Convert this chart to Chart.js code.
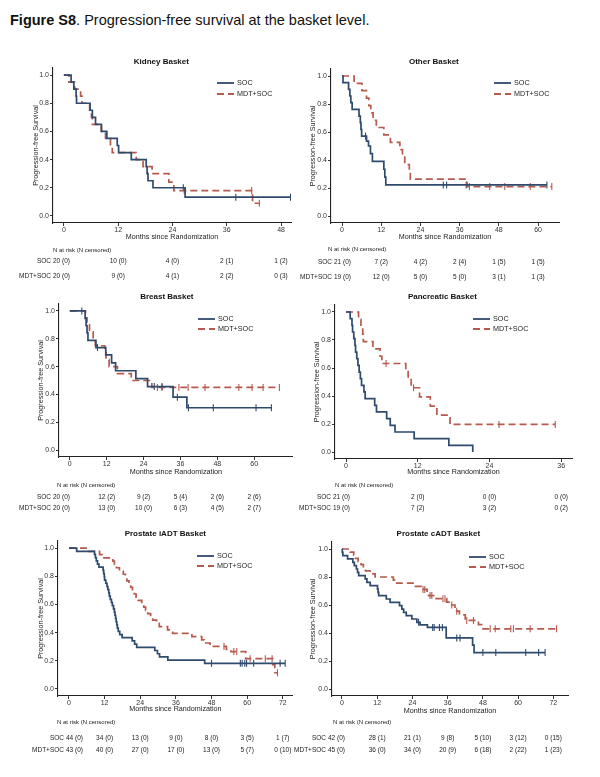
<!DOCTYPE html>
<html><head><meta charset="utf-8">
<script src="https://cdn.jsdelivr.net/npm/chart.js@4"></script>
<style>
html,body{margin:0;padding:0;background:#fff}
body{width:600px;height:777px;position:relative;overflow:hidden;font-family:"Liberation Sans",Arial,sans-serif}
#title{position:absolute;left:10px;top:12px;font-size:14.5px;color:#111;white-space:nowrap}
canvas{position:absolute}
</style></head><body>
<div id="title"><b>Figure S8</b>. Progression-free survival at the basket level.</div>
<script>
// ---------- DATA ----------
const yTicks = [0, 0.2, 0.4, 0.6, 0.8, 1.0];

const kidneyTicks = [0, 12, 24, 36, 48];
const kidneySOC = [[0,1],[1.6,0.95],[2.2,0.9],[2.7,0.85],[2.8,0.8],[5.8,0.75],[6.3,0.7],[7.0,0.65],[8.3,0.6],[9.5,0.55],[11.8,0.5],[12.1,0.45],[14.9,0.4],[18.2,0.35],[18.4,0.3],[18.6,0.25],[19.7,0.2],[26.8,0.133],[50.1,0.133]];
const kidneySOCCens = [[26.4,0.2],[38.0,0.133],[50.1,0.133]];
const kidneyMDT = [[0,1],[1.1,0.95],[2.4,0.9],[3.7,0.85],[4.0,0.8],[5.7,0.75],[6.1,0.7],[6.3,0.65],[8.3,0.6],[9.2,0.55],[10.3,0.5],[10.7,0.45],[16.0,0.4],[17.5,0.35],[19.5,0.3],[23.2,0.24],[24.3,0.18],[41.7,0.09],[43.2,0.09]];
const kidneyMDTCens = [[26.6,0.18],[41.5,0.18],[43.2,0.09]];
const kidneyRiskSOC = [20, 10, 4, 2, 1];
const kidneyCensSOC = [0, 0, 0, 1, 2];
const kidneyRiskMDT = [20, 9, 4, 2, 0];
const kidneyCensMDT = [0, 0, 1, 2, 3];

const otherTicks = [0, 12, 24, 36, 48, 60];
const otherSOC = [[0,1],[0.3,0.952],[2.0,0.905],[2.4,0.857],[2.7,0.81],[3.1,0.762],[5.2,0.714],[5.6,0.667],[5.8,0.619],[6.0,0.571],[7.5,0.535],[8.1,0.5],[8.7,0.446],[9.3,0.39],[12.8,0.334],[13.1,0.278],[13.4,0.222],[62.7,0.222]];
const otherSOCCens = [[7.2,0.571],[31.0,0.222],[32.0,0.222],[38.0,0.222],[62.7,0.222]];
const otherMDT = [[0,1],[3.7,0.947],[6.1,0.895],[7.5,0.842],[8.2,0.789],[8.8,0.737],[9.5,0.684],[10.5,0.632],[12.8,0.579],[14.8,0.526],[17.7,0.474],[18.5,0.421],[19.2,0.368],[20.6,0.316],[20.9,0.263],[38.3,0.21],[64.2,0.21]];
const otherMDTCens = [[39.0,0.21],[45.2,0.21],[49.8,0.21],[57.6,0.21],[64.2,0.21]];
const otherRiskSOC = [21, 7, 4, 2, 1, 1];
const otherCensSOC = [0, 2, 2, 4, 5, 5];
const otherRiskMDT = [19, 12, 5, 5, 3, 1];
const otherCensMDT = [0, 0, 0, 0, 1, 3];

const breastTicks = [0, 12, 24, 36, 48, 60];
const breastSOC = [[0,1],[5.0,0.947],[5.3,0.895],[5.6,0.842],[5.9,0.789],[8.5,0.737],[11.7,0.684],[13.6,0.627],[14.9,0.570],[21.5,0.513],[25.3,0.456],[33.6,0.38],[38.1,0.304],[65.6,0.304]];
const breastSOCCens = [[3.9,1.0],[9.0,0.737],[27.5,0.456],[30.0,0.456],[35.0,0.38],[38.6,0.304],[46.7,0.304],[60.6,0.304],[65.6,0.304]];
const breastMDT = [[0,1],[5.1,0.95],[5.6,0.9],[6.4,0.85],[7.6,0.8],[8.3,0.75],[11.4,0.7],[11.8,0.65],[12.8,0.6],[15.5,0.55],[20.0,0.5],[26.7,0.45],[68.2,0.45]];
const breastMDTCens = [[28.5,0.45],[30.0,0.45],[35.5,0.45],[38.5,0.45],[44.0,0.45],[55.0,0.45],[59.3,0.45],[62.9,0.45],[68.2,0.45]];
const breastRiskSOC = [20, 12, 9, 5, 2, 2];
const breastCensSOC = [0, 2, 2, 4, 6, 6];
const breastRiskMDT = [20, 13, 10, 6, 4, 2];
const breastCensMDT = [0, 0, 0, 3, 5, 7];

const pancTicks = [0, 12, 24, 36];
const pancSOC = [[0,1],[0.7,0.952],[1.0,0.905],[1.1,0.857],[1.3,0.810],[1.5,0.762],[1.6,0.714],[1.8,0.667],[2.0,0.619],[2.2,0.571],[2.4,0.524],[2.6,0.476],[3.0,0.429],[3.2,0.381],[4.8,0.333],[5.1,0.286],[6.8,0.238],[7.4,0.19],[8.2,0.143],[11.4,0.095],[17.2,0.048],[21.2,0.0]];
const pancSOCCens = [];
const pancMDT = [[0,1],[2.1,0.947],[2.5,0.895],[2.8,0.842],[2.9,0.789],[4.5,0.737],[5.7,0.684],[6.0,0.632],[10.0,0.574],[10.4,0.517],[10.9,0.459],[12.3,0.394],[14.1,0.328],[15.2,0.263],[17.4,0.197],[35.0,0.197]];
const pancMDTCens = [[6.7,0.632],[11.3,0.459],[25.6,0.197],[35.0,0.197]];
const pancRiskSOC = [21, 2, 0, 0];
const pancCensSOC = [0, 0, 0, 0];
const pancRiskMDT = [19, 7, 3, 0];
const pancCensMDT = [0, 2, 2, 2];

const iadtTicks = [0, 12, 24, 36, 48, 60, 72];
const iadtSOC = [[0,1],[2.6,0.977],[8.6,0.955],[8.9,0.932],[9.2,0.909],[9.6,0.886],[10.1,0.864],[11.5,0.841],[11.7,0.818],[11.9,0.795],[12.0,0.773],[12.4,0.75],[12.8,0.727],[13.1,0.705],[13.4,0.682],[13.6,0.659],[13.9,0.636],[14.3,0.614],[14.6,0.591],[15.0,0.568],[15.3,0.545],[15.5,0.523],[15.7,0.5],[15.9,0.477],[16.1,0.455],[16.3,0.432],[16.6,0.409],[17.1,0.386],[17.9,0.364],[21.3,0.341],[22.1,0.318],[22.8,0.295],[28.9,0.273],[29.8,0.25],[30.5,0.227],[33.3,0.205],[45.7,0.182],[72.8,0.182]];
const iadtSOCCens = [[48.0,0.182],[57.7,0.182],[58.3,0.182],[59.2,0.182],[59.8,0.182],[62.2,0.182],[71.1,0.182],[72.8,0.182]];
const iadtMDT = [[0,1],[6.5,0.977],[10.3,0.953],[11.2,0.930],[14.8,0.907],[15.3,0.884],[16.0,0.860],[17.0,0.837],[18.3,0.814],[19.0,0.791],[19.5,0.767],[20.2,0.744],[20.8,0.721],[21.4,0.698],[22.0,0.674],[22.6,0.651],[23.3,0.628],[24.5,0.605],[25.2,0.581],[25.8,0.558],[26.5,0.535],[27.5,0.512],[28.2,0.488],[29.5,0.465],[30.4,0.442],[33.2,0.419],[34.9,0.395],[41.4,0.372],[44.7,0.349],[45.5,0.326],[47.5,0.302],[53.0,0.28],[54.5,0.265],[59.5,0.215],[68.6,0.172],[69.3,0.115],[70.2,0.115]];
const iadtMDTCens = [[52.2,0.302],[55.5,0.265],[56.5,0.265],[61.0,0.215],[66.1,0.215],[68.4,0.215],[70.2,0.115]];
const iadtRiskSOC = [44, 34, 13, 9, 8, 3, 1];
const iadtCensSOC = [0, 0, 0, 0, 0, 5, 7];
const iadtRiskMDT = [43, 40, 27, 17, 13, 5, 0];
const iadtCensMDT = [0, 0, 0, 0, 0, 7, 10];

const cadtTicks = [0, 12, 24, 36, 48, 60, 72];
const cadtSOC = [[0,1],[0.1,0.976],[0.3,0.952],[1.9,0.929],[3.7,0.905],[4.2,0.881],[4.9,0.857],[5.3,0.833],[5.7,0.81],[7.9,0.786],[8.5,0.762],[9.6,0.738],[12.1,0.714],[12.3,0.69],[12.5,0.667],[15.1,0.643],[16.4,0.619],[19.6,0.595],[20.4,0.571],[21.0,0.548],[21.9,0.524],[23.8,0.5],[25.5,0.476],[26.6,0.458],[29.1,0.44],[35.5,0.365],[44.5,0.313],[45.0,0.26],[69.2,0.26]];
const cadtSOCCens = [[26.1,0.476],[30.9,0.44],[31.4,0.44],[33.2,0.44],[34.2,0.44],[39.1,0.365],[40.2,0.365],[48.0,0.26],[52.4,0.26],[62.6,0.26],[67.0,0.26],[69.2,0.26]];
const cadtMDT = [[0,1],[2.8,0.978],[4.0,0.956],[4.6,0.933],[5.5,0.911],[6.5,0.889],[7.3,0.867],[8.0,0.844],[9.6,0.822],[11.3,0.8],[17.5,0.778],[18.0,0.756],[24.5,0.733],[27.0,0.711],[29.0,0.689],[29.5,0.667],[31.2,0.645],[35.7,0.62],[36.8,0.6],[38.5,0.556],[40.0,0.53],[42.0,0.49],[46.5,0.46],[47.6,0.43],[73.1,0.43]];
const cadtMDTCens = [[27.6,0.711],[28.2,0.711],[30.0,0.667],[30.6,0.667],[34.4,0.645],[35.1,0.645],[37.4,0.6],[39.1,0.556],[42.5,0.49],[44.8,0.49],[50.5,0.43],[52.2,0.43],[57.5,0.43],[58.4,0.43],[64.1,0.43],[73.1,0.43]];
const cadtRiskSOC = [42, 28, 21, 9, 5, 3, 0];
const cadtCensSOC = [0, 1, 1, 8, 10, 12, 15];
const cadtRiskMDT = [45, 36, 34, 20, 6, 2, 1];
const cadtCensMDT = [0, 0, 0, 9, 18, 22, 23];

const groupLabels = ['SOC', 'MDT+SOC'];

// ---------- STYLE / LAYOUT ----------
const FONT = '"Liberation Sans", Arial, sans-serif';
const SOC_COL = '#2e4a6c';
const MDT_COL = '#b65a4d';
Chart.defaults.font.family = FONT;
Chart.defaults.color = '#222';

const panels = [
  {title:'Kidney Basket', ticks:kidneyTicks, soc:kidneySOC, socC:kidneySOCCens, mdt:kidneyMDT, mdtC:kidneyMDTCens,
   rs:kidneyRiskSOC, cs:kidneyCensSOC, rm:kidneyRiskMDT, cm:kidneyCensMDT,
   box:{x:0,y:48,w:298,h:237}, L:53, R:291, T:68, B:223, xmin:-2.4, xmax:50.2, titleY:62, yTitleX:36, xTitleY:237,
   risk:{n:250, s:261, m:276, labR:51, nX:53}, leg:{x:217, y:83, dy:11}},
  {title:'Other Basket', ticks:otherTicks, soc:otherSOC, socC:otherSOCCens, mdt:otherMDT, mdtC:otherMDTCens,
   rs:otherRiskSOC, cs:otherCensSOC, rm:otherRiskMDT, cm:otherCensMDT,
   box:{x:292,y:48,w:308,h:237}, L:331, R:559, T:69, B:223, xmin:-3.37, xmax:66.4, titleY:62, yTitleX:313, xTitleY:237,
   risk:{n:249, s:262, m:277, labR:332, nX:328}, leg:{x:494, y:83, dy:11}},
  {title:'Breast Basket', ticks:breastTicks, soc:breastSOC, socC:breastSOCCens, mdt:breastMDT, mdtC:breastMDTCens,
   rs:breastRiskSOC, cs:breastCensSOC, rm:breastRiskMDT, cm:breastCensMDT,
   box:{x:0,y:285,w:298,h:235}, L:59, R:297, T:304, B:457, xmin:-3.52, xmax:72.6, titleY:297, yTitleX:41, xTitleY:472,
   risk:{n:485, s:497, m:508, labR:51, nX:57}, leg:{x:198, y:319, dy:10}},
  {title:'Pancreatic Basket', ticks:pancTicks, soc:pancSOC, socC:pancSOCCens, mdt:pancMDT, mdtC:pancMDTCens,
   rs:pancRiskSOC, cs:pancCensSOC, rm:pancRiskMDT, cm:pancCensMDT,
   box:{x:292,y:285,w:308,h:235}, L:335, R:572, T:305, B:459, xmin:-1.84, xmax:37.8, titleY:297, yTitleX:317, xTitleY:472,
   risk:{n:485, s:497, m:508, labR:331, nX:335}, leg:{x:473, y:319, dy:10}},
  {title:'Prostate iADT Basket', ticks:iadtTicks, soc:iadtSOC, socC:iadtSOCCens, mdt:iadtMDT, mdtC:iadtMDTCens,
   rs:iadtRiskSOC, cs:iadtCensSOC, rm:iadtRiskMDT, cm:iadtCensMDT,
   box:{x:0,y:522,w:298,h:255}, L:58, R:294, T:541, B:696, xmin:-3.69, xmax:75.4, titleY:534, yTitleX:41, xTitleY:709,
   risk:{n:722, s:738, m:750, labR:64, nX:57}, leg:{x:197, y:556, dy:10}},
  {title:'Prostate cADT Basket', ticks:cadtTicks, soc:cadtSOC, socC:cadtSOCCens, mdt:cadtMDT, mdtC:cadtMDTCens,
   rs:cadtRiskSOC, cs:cadtCensSOC, rm:cadtRiskMDT, cm:cadtCensMDT,
   box:{x:292,y:522,w:308,h:255}, L:332, R:568, T:542, B:696, xmin:-3.4, xmax:77, titleY:534, yTitleX:313, xTitleY:711,
   risk:{n:722, s:738, m:750, labR:326, nX:333}, leg:{x:469, y:557, dy:10}}
];

const toXY = arr => arr.map(([x, y]) => ({x, y}));

function extras(p) {
  return {
    id: 'extras',
    afterDraw(chart) {
      const ctx = chart.ctx;
      const ox = p.box.x, oy = p.box.y;
      ctx.save();
      // legend (from the two curve datasets)
      const ds = chart.data.datasets;
      [0, 1].forEach((i, k) => {
        const d = ds[i];
        const x = p.leg.x - ox, y = p.leg.y + k * p.leg.dy - oy;
        ctx.strokeStyle = d.borderColor;
        ctx.lineWidth = 1.8;
        ctx.setLineDash(d.borderDash || []);
        ctx.beginPath(); ctx.moveTo(x, y); ctx.lineTo(x + 17, y); ctx.stroke();
        ctx.setLineDash([]);
        ctx.fillStyle = '#222';
        ctx.font = '7.2px ' + FONT;
        ctx.textAlign = 'left'; ctx.textBaseline = 'middle';
        ctx.fillText(d.label, x + 20, y + 0.5);
      });
      // risk table
      const xs = chart.scales.x;
      ctx.fillStyle = '#222';
      ctx.textBaseline = 'middle';
      ctx.font = '6px ' + FONT;
      ctx.textAlign = 'left';
      ctx.fillText('N at risk (N censored)', p.risk.nX - ox, p.risk.n - oy);
      const rows = [[groupLabels[0], p.rs, p.cs, p.risk.s], [groupLabels[1], p.rm, p.cm, p.risk.m]];
      ctx.font = '6.5px ' + FONT;
      rows.forEach(([lab, r, c, yy]) => {
        const y = yy - oy;
        ctx.textAlign = 'right';
        ctx.fillText(lab, p.risk.labR - ox, y);
        p.ticks.forEach((t, j) => {
          const txt = r[j] + ' (' + c[j] + ')';
          if (j === 0) {
            ctx.textAlign = 'left';
            ctx.fillText(txt, p.risk.labR + 2 - ox, y);
          } else {
            ctx.textAlign = 'center';
            ctx.fillText(txt, xs.getPixelForValue(t), y);
          }
        });
      });
      ctx.restore();
    }
  };
}

function build(p) {
  const c = document.createElement('canvas');
  c.width = p.box.w; c.height = p.box.h;
  c.style.left = p.box.x + 'px'; c.style.top = p.box.y + 'px';
  c.style.width = p.box.w + 'px'; c.style.height = p.box.h + 'px';
  document.body.appendChild(c);
  const TF = 8, TLH = TF * 1.2;
  const AF = 7.2, ALH = AF * 1.2;
  const axisLeft = p.yTitleX - ALH / 2;
  const yW = p.L - axisLeft;
  const xH = p.xTitleY + ALH / 2 - p.B;
  const tPadTop = p.titleY - TLH / 2 - p.box.y;
  const tPadBot = p.T - (p.titleY + TLH / 2);
  const cens = (data, col) => ({
    label: 'cens', data: toXY(data), showLine: false,
    pointStyle: 'line', pointRotation: 90, pointRadius: 3.5, pointBorderWidth: 1.1,
    borderColor: col, backgroundColor: col, pointBorderColor: col
  });
  new Chart(c, {
    type: 'line',
    data: {
      datasets: [
        {label: groupLabels[0], data: toXY(p.soc), borderColor: SOC_COL, borderWidth: 1.7, stepped: 'before', pointRadius: 0, fill: false},
        {label: groupLabels[1], data: toXY(p.mdt), borderColor: MDT_COL, borderWidth: 1.7, borderDash: [7, 4], stepped: 'before', pointRadius: 0, fill: false},
        cens(p.socC, SOC_COL),
        cens(p.mdtC, MDT_COL)
      ]
    },
    options: {
      responsive: false, animation: false, events: [],
      layout: {padding: {left: axisLeft - p.box.x, right: p.box.x + p.box.w - p.R, top: 0, bottom: p.box.y + p.box.h - p.B - xH}},
      plugins: {
        legend: {display: false}, tooltip: {enabled: false},
        title: {display: true, text: p.title, color: '#111', font: {size: TF, weight: 'bold'}, padding: {top: tPadTop, bottom: tPadBot}}
      },
      scales: {
        x: {
          type: 'linear', min: p.xmin, max: p.xmax,
          afterBuildTicks: s => { s.ticks = p.ticks.map(v => ({value: v})); },
          afterFit: s => { s.height = xH; },
          ticks: {autoSkip: false, maxRotation: 0, minRotation: 0, padding: 0, color: '#333', font: {size: 7}, callback: v => String(v)},
          grid: {display: true, drawOnChartArea: false, drawTicks: true, tickLength: 3, color: '#333', lineWidth: 1},
          border: {display: true, color: '#222', width: 1.1},
          title: {display: true, text: 'Months since Randomization', color: '#222', font: {size: AF}, padding: {top: 0, bottom: 0}}
        },
        y: {
          type: 'linear', min: -0.05, max: 1.05,
          afterBuildTicks: s => { s.ticks = yTicks.map(v => ({value: v})); },
          afterFit: s => { s.width = yW; },
          ticks: {autoSkip: false, padding: 1, color: '#333', font: {size: 7}, callback: v => Number(v).toFixed(1)},
          grid: {display: true, drawOnChartArea: false, drawTicks: true, tickLength: 3, color: '#333', lineWidth: 1},
          border: {display: true, color: '#222', width: 1.1},
          title: {display: true, text: 'Progression-free Survival', color: '#222', font: {size: AF}, padding: {top: 0, bottom: 0}}
        }
      }
    },
    plugins: [extras(p)]
  });
}
panels.forEach(build);
</script>
</body></html>
